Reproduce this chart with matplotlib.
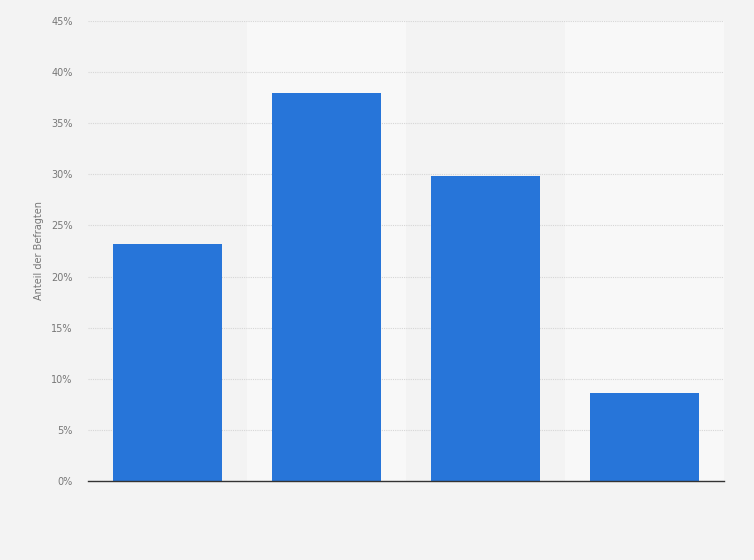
import matplotlib
matplotlib.use("Agg")
import matplotlib.pyplot as plt
from matplotlib.ticker import FuncFormatter

categories = ["A", "B", "C", "D"]
values = [23.2, 38.0, 29.8, 8.6]
yticks = [0, 5, 10, 15, 20, 25, 30, 35, 40, 45]

bg = "#f3f3f3"
fig = plt.figure(figsize=(7.54, 5.60), dpi=100, facecolor=bg)
ax = fig.add_axes([88/754, 1-481/560, (724-88)/754, (481-20.5)/560])
ax.set_facecolor(bg)

x = list(range(len(categories)))
for i in x:
    if i % 2 == 1:
        ax.axvspan(i-0.5, i+0.5, color="#f8f8f8", zorder=0, lw=0)

ax.bar(x, values, width=0.685, color="#2775d9", zorder=3)
ax.set_xlim(-0.5, len(categories)-0.5)
ax.set_ylim(0, 45.05)
ax.set_yticks(yticks)
ax.yaxis.set_major_formatter(FuncFormatter(lambda v, p: f"{int(v)}%"))
ax.set_xticks(x)
ax.set_xticklabels([])
ax.tick_params(axis="x", length=0)
ax.tick_params(axis="y", length=0, labelsize=7, labelcolor="#777777", pad=11)
ax.grid(axis="y", color="#d6d6d6", linestyle=(0, (1, 1)), linewidth=0.8, zorder=1)
for s in ["top", "right", "left"]:
    ax.spines[s].set_visible(False)
ax.spines["bottom"].set_color("#333333")
ax.spines["bottom"].set_linewidth(1.0)
ax.spines["bottom"].set_zorder(4)
ax.set_ylabel("Anteil der Befragten", fontsize=7, color="#777777", labelpad=5)

fig.savefig("out.png", dpi=100, facecolor=bg)
